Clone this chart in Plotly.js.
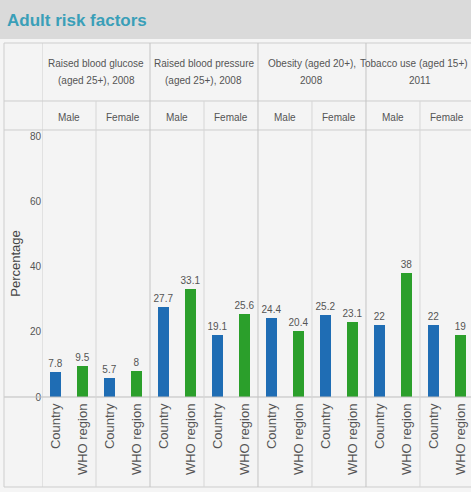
<!DOCTYPE html>
<html>
<head>
<meta charset="utf-8">
<script src="https://cdn.plot.ly/plotly-3.0.1.min.js"></script>
<style>html,body{margin:0;padding:0;background:#f5f5f5;}#chart{width:471px;height:492px;}</style>
</head>
<body>
<div id="chart"></div>
<script>
// ---- data ----
const groupLine1 = ["Raised blood glucose", "Raised blood pressure", "Obesity (aged 20+),", "Tobacco use (aged 15+)"];
const groupLine2 = ["(aged 25+), 2008", "(aged 25+), 2008", "2008", "2011"];
const sexLabels = ["Male", "Female", "Male", "Female", "Male", "Female", "Male", "Female"];
const seriesNames = ["Country", "WHO region"];
const countryValues = [7.8, 5.7, 27.7, 19.1, 24.4, 25.2, 22, 22];
const whoValues = [9.5, 8, 33.1, 25.6, 20.4, 23.1, 38, 19];
const yTicks = [0, 20, 40, 60, 80];

// ---- geometry helpers (pixels -> paper) ----
const W = 471, H = 492;
const L = 42, R = 0, T = 130, B = 95;
const plotW = W - L - R, plotH = H - T - B;
const py = p => (H - B - p) / plotH;   // pixel y -> paper y
const px = p => (p - L) / plotW;       // pixel x -> paper x

const nSub = sexLabels.length;
const countryX = countryValues.map((v, i) => 2 * i);
const whoX = whoValues.map((v, i) => 2 * i + 1);
const tickVals = [], tickText = [];
for (let i = 0; i < nSub; i++) {
  tickVals.push(2 * i, 2 * i + 1);
  tickText.push(seriesNames[0], seriesNames[1]);
}

const blue = "#1f6db4", green = "#2b9f2b";
const barText = {size: 10, color: "#555", family: "Liberation Sans, Arial, sans-serif"};
const traces = [
  {type: "bar", name: seriesNames[0], x: countryX, y: countryValues, width: 0.38,
   marker: {color: blue}, text: countryValues.map(String), textposition: "outside",
   constraintext: "none", textfont: barText, cliponaxis: false, hoverinfo: "y"},
  {type: "bar", name: seriesNames[1], x: whoX, y: whoValues, width: 0.38,
   marker: {color: green}, text: whoValues.map(String), textposition: "outside",
   constraintext: "none", textfont: barText, cliponaxis: false, hoverinfo: "y"}
];

const lineC = "#cdcdcd";
const shapes = [];
// title bar
shapes.push({type: "rect", xref: "paper", yref: "paper", x0: px(0), x1: px(W), y0: py(39), y1: py(0),
  fillcolor: "#dadada", line: {width: 0}, layer: "below"});
// table background
shapes.push({type: "rect", xref: "paper", yref: "paper", x0: px(4), x1: px(W), y0: py(487), y1: py(43),
  fillcolor: "#f4f4f4", line: {width: 0}, layer: "below"});
// horizontal table lines
[43, 101, 130, 487].forEach(yy => shapes.push({type: "line", xref: "paper", yref: "paper",
  x0: px(4), x1: px(W), y0: py(yy), y1: py(yy), line: {color: lineC, width: 1}}));
// axis base line
shapes.push({type: "line", xref: "paper", yref: "paper", x0: px(4), x1: px(W), y0: 0, y1: 0,
  line: {color: "#bdbdbd", width: 1}});
// outer left border and left column line
shapes.push({type: "line", xref: "paper", yref: "paper", x0: px(4), x1: px(4), y0: py(487), y1: py(43),
  line: {color: lineC, width: 1}});
shapes.push({type: "line", xref: "x", yref: "paper", x0: -0.5, x1: -0.5, y0: py(487), y1: py(43),
  line: {color: lineC, width: 1}});
// sub-column and group boundaries
for (let i = 1; i < nSub; i++) {
  const xb = 2 * i - 0.5;
  const isGroup = i % 2 === 0;
  shapes.push({type: "line", xref: "x", yref: "paper", x0: xb, x1: xb,
    y0: py(487), y1: py(isGroup ? 43 : 101),
    line: {color: isGroup ? "#c4c4c4" : "#d6d6d6", width: 1}});
}

const hdrFont = {size: 10, color: "#555", family: "Liberation Sans, Arial, sans-serif"};
const annotations = [];
annotations.push({xref: "paper", yref: "paper", x: px(5), y: py(21), xanchor: "left", yanchor: "middle",
  text: "<b>Adult risk factors</b>", showarrow: false,
  font: {size: 17, color: "#3a9fb8", family: "Liberation Sans, Arial, sans-serif"}});
groupLine1.forEach((g, i) => {
  const last = i === groupLine1.length - 1;
  annotations.push({xref: "x", yref: "paper", x: 4 * i + 1.5, y: py(63), text: g, showarrow: false,
    xanchor: "center", yanchor: "middle", xshift: last ? -6 : 0, font: hdrFont});
  annotations.push({xref: "x", yref: "paper", x: 4 * i + 1.5, y: py(80), text: groupLine2[i], showarrow: false,
    xanchor: "center", yanchor: "middle", font: hdrFont});
});
sexLabels.forEach((s, i) => {
  annotations.push({xref: "x", yref: "paper", x: 2 * i + 0.5, y: py(117), text: s, showarrow: false,
    xanchor: "center", yanchor: "middle", font: hdrFont});
});

const layout = {
  width: W, height: H,
  margin: {l: L, r: R, t: T, b: B, pad: 0},
  paper_bgcolor: "#f5f5f5", plot_bgcolor: "#f7f7f7",
  showlegend: false,
  bargap: 0,
  font: {family: "Liberation Sans, Arial, sans-serif", color: "#555"},
  xaxis: {range: [-0.5, 15.39], tickvals: tickVals, ticktext: tickText, tickangle: -90,
    tickfont: {size: 13, color: "#555"}, showgrid: false, zeroline: false, showline: false,
    ticks: "", ticklabelstandoff: 3, fixedrange: true},
  yaxis: {range: [0, 82], tickvals: yTicks, tickfont: {size: 10, color: "#555"},
    showgrid: false, zeroline: false, showline: false, ticks: "",
    title: {text: "Percentage", font: {size: 13, color: "#444"}, standoff: 6}, fixedrange: true},
  shapes: shapes,
  annotations: annotations
};

Plotly.newPlot("chart", traces, layout, {displayModeBar: false, staticPlot: true});
</script>
</body>
</html>
